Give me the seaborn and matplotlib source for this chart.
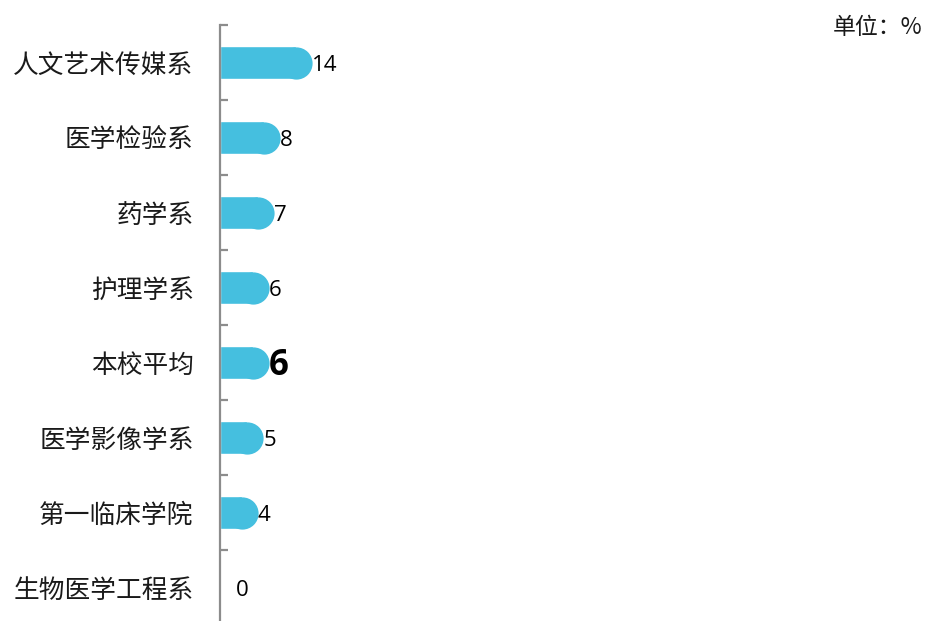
import matplotlib
matplotlib.use("Agg")
import matplotlib.pyplot as plt
import seaborn as sns
import numpy as np
import pandas as pd

categories = ["人文艺术传媒系", "医学检验系", "药学系", "护理学系", "本校平均",
              "医学影像学系", "第一临床学院", "生物医学工程系"]
values = [14, 8, 7, 6, 6, 5, 4, 0]
highlight = "本校平均"
unit_text = "单位：%"

BAR_COLOR = "#45BFDF"
AXIS_COLOR = "#8C8C8C"

sns.set_theme(style="white")
plt.rcParams['font.family'] = ['Noto Sans CJK SC', 'DejaVu Sans']

df = pd.DataFrame({"cat": categories, "val": values})

fig = plt.figure(figsize=(9.26, 6.21), dpi=100)
ax = fig.add_axes([220 / 926, 1 - 625 / 621, 706 / 926, 600 / 621])

sns.barplot(data=df, x="val", y="cat", orient="h", color=BAR_COLOR,
            saturation=1, width=0.43, ax=ax)

# rounded caps at bar ends
pos = np.arange(len(categories))
vals = np.array(values, dtype=float)
mask = vals > 0
ax.plot(vals[mask], pos[mask], "o", ms=23.2, color=BAR_COLOR,
        markeredgewidth=0, clip_on=True, zorder=3)

ax.set_xlim(0, 706 / 5.45)
ax.set_ylim(len(categories) - 0.5, -0.5)

# value labels
for i, (c, v) in enumerate(zip(categories, values)):
    if c == highlight:
        ax.annotate(f"{v:g}", xy=(v, i), xytext=(11.5, -2.5), textcoords="offset points",
                    ha="left", va="center", fontsize=25, fontweight="bold",
                    family=["Open Sans", "DejaVu Sans"], color="black")
    else:
        ax.annotate(f"{v:g}", xy=(v, i), xytext=(11.5, -2.5), textcoords="offset points",
                    ha="left", va="center", fontsize=16,
                    family=["Open Sans", "DejaVu Sans"], color="black")

# axes styling
for s in ["top", "right", "bottom"]:
    ax.spines[s].set_visible(False)
ax.spines["left"].set_color(AXIS_COLOR)
ax.spines["left"].set_linewidth(1.6)
ax.set_xlabel("")
ax.set_ylabel("")
ax.set_xticks([])
ax.set_yticks(pos)
ax.set_yticklabels(categories, fontsize=18.5, color="#1a1a1a")
ax.tick_params(axis="y", which="major", length=0, pad=19)
ax.set_yticks(np.arange(-0.5, len(categories) + 0.5, 1.0), minor=True)
ax.tick_params(axis="y", which="minor", direction="in", length=5.5,
               width=1.6, color=AXIS_COLOR, left=True)

fig.text(922 / 926, 1 - 27 / 621, unit_text, ha="right", va="center",
         fontsize=16.5, color="#1a1a1a")

fig.savefig("out.png", dpi=100)
